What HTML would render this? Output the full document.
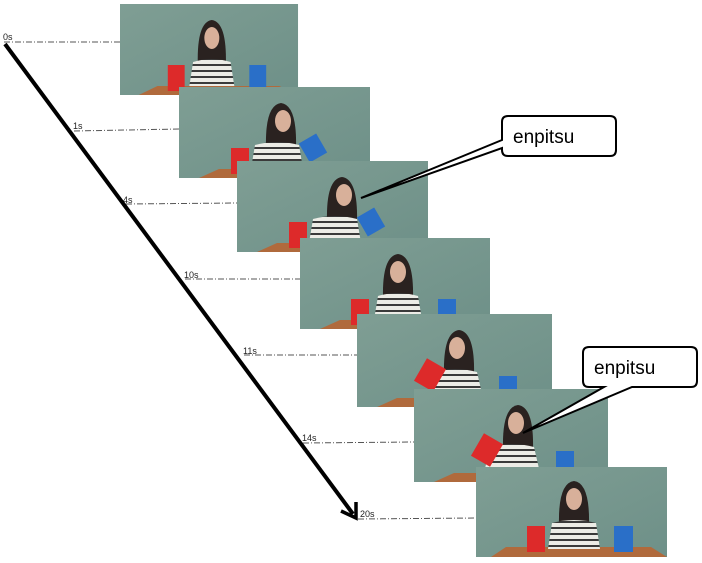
<!DOCTYPE html>
<html><head><meta charset="utf-8"><style>
html,body{margin:0;padding:0;background:#fff;}
svg{display:block}
text{font-family:"Liberation Sans",sans-serif;}
</style></head><body>
<svg width="702" height="563" viewBox="0 0 702 563">
<defs>
<linearGradient id="bg" x1="0" y1="0" x2="1" y2="1">
<stop offset="0" stop-color="#7f9e94"/><stop offset="1" stop-color="#6e9088"/>
</linearGradient>
<pattern id="st" width="4" height="6" patternUnits="userSpaceOnUse">
<rect width="4" height="6" fill="#ecece6"/><rect width="4" height="2" fill="#3a3a3a"/>
</pattern>
</defs>
<g stroke="#555" stroke-width="1" stroke-dasharray="6,2,1,2" fill="none">
<line x1="4" y1="42" x2="120" y2="42"/>
<line x1="74" y1="131" x2="179" y2="129"/>
<line x1="126" y1="204" x2="237" y2="203"/>
<line x1="185" y1="279" x2="300" y2="279"/>
<line x1="244" y1="355" x2="357" y2="355"/>
<line x1="303" y1="443" x2="414" y2="442"/>
<line x1="358" y1="519" x2="476" y2="518"/>
</g>
<g font-size="9" fill="#222">
<text x="3" y="40">0s</text>
<text x="73" y="129">1s</text>
<text x="123" y="203">4s</text>
<text x="184" y="278">10s</text>
<text x="243" y="354">11s</text>
<text x="302" y="441">14s</text>
<text x="360" y="517">20s</text>
</g>
<line x1="5" y1="44" x2="353" y2="514" stroke="#000" stroke-width="4"/>
<path d="M341 511 L356 518 L356 502" fill="none" stroke="#000" stroke-width="3.5"/>

<g transform="translate(120,4) scale(0.937,1)">
<rect width="190" height="91" fill="url(#bg)"/>
<polygon points="20,91 40,82 170,82 190,91" fill="#b06a3c"/>
<path d="M83 60 Q82 18 98 16 Q114 18 113 60 Z" fill="#2a2220"/>
<ellipse cx="98" cy="34" rx="8" ry="11" fill="#d8b09a"/>
<path d="M74 82 L78 58 Q98 52 118 58 L122 82 Z" fill="url(#st)"/>
<rect x="51" y="61" width="18" height="26" fill="#dd2a2a"/>
<rect x="138" y="61" width="18" height="26" fill="#2a6fc8"/>
</g>
<g transform="translate(179,87)">
<rect width="191" height="91" fill="url(#bg)"/>
<polygon points="20,91 40,82 170,82 191,91" fill="#b06a3c"/>
<path d="M87 60 Q86 18 102 16 Q118 18 117 60 Z" fill="#2a2220"/>
<ellipse cx="104" cy="34" rx="8" ry="11" fill="#d8b09a"/>
<path d="M72 82 L76 58 Q98 52 120 58 L124 82 Z" fill="url(#st)"/>
<rect x="52" y="61" width="18" height="26" fill="#dd2a2a"/>
<rect x="124" y="50" width="20" height="22" fill="#2a6fc8" transform="rotate(-30 134 61)"/>
</g>
<g transform="translate(237,161)">
<rect width="191" height="91" fill="url(#bg)"/>
<polygon points="20,91 40,82 170,82 191,91" fill="#b06a3c"/>
<path d="M90 60 Q89 18 105 16 Q121 18 120 60 Z" fill="#2a2220"/>
<ellipse cx="107" cy="34" rx="8" ry="11" fill="#d8b09a"/>
<path d="M72 82 L76 58 Q98 52 120 58 L124 82 Z" fill="url(#st)"/>
<rect x="52" y="61" width="18" height="26" fill="#dd2a2a"/>
<rect x="124" y="50" width="20" height="22" fill="#2a6fc8" transform="rotate(-30 134 61)"/>
</g>
<g transform="translate(300,238)">
<rect width="190" height="91" fill="url(#bg)"/>
<polygon points="20,91 40,82 170,82 190,91" fill="#b06a3c"/>
<path d="M83 60 Q82 18 98 16 Q114 18 113 60 Z" fill="#2a2220"/>
<ellipse cx="98" cy="34" rx="8" ry="11" fill="#d8b09a"/>
<path d="M74 82 L78 58 Q98 52 118 58 L122 82 Z" fill="url(#st)"/>
<rect x="51" y="61" width="18" height="26" fill="#dd2a2a"/>
<rect x="138" y="61" width="18" height="26" fill="#2a6fc8"/>
</g>
<g transform="translate(357,314)">
<rect width="195" height="93" fill="url(#bg)"/>
<polygon points="20,93 40,84 170,84 195,93" fill="#b06a3c"/>
<path d="M87 60 Q86 18 102 16 Q118 18 117 60 Z" fill="#2a2220"/>
<ellipse cx="100" cy="34" rx="8" ry="11" fill="#d8b09a"/>
<path d="M70 84 L76 58 Q98 52 120 58 L126 84 Z" fill="url(#st)"/>
<rect x="62" y="48" width="22" height="26" fill="#dd2a2a" transform="rotate(30 73 61)"/>
<rect x="142" y="62" width="18" height="22" fill="#2a6fc8"/>
</g>
<g transform="translate(414,389)">
<rect width="194" height="93" fill="url(#bg)"/>
<polygon points="20,93 40,84 170,84 194,93" fill="#b06a3c"/>
<path d="M89 60 Q88 18 104 16 Q120 18 119 60 Z" fill="#2a2220"/>
<ellipse cx="102" cy="34" rx="8" ry="11" fill="#d8b09a"/>
<path d="M70 84 L76 58 Q98 52 120 58 L126 84 Z" fill="url(#st)"/>
<rect x="62" y="48" width="22" height="26" fill="#dd2a2a" transform="rotate(30 73 61)"/>
<rect x="142" y="62" width="18" height="22" fill="#2a6fc8"/>
</g>
<g transform="translate(476,467)">
<rect width="191" height="90" fill="url(#bg)"/>
<polygon points="15,90 30,80 175,80 191,90" fill="#b06a3c"/>
<path d="M83 58 Q82 16 98 14 Q114 16 113 58 Z" fill="#2a2220"/>
<ellipse cx="98" cy="32" rx="8" ry="11" fill="#d8b09a"/>
<path d="M72 82 L76 56 Q98 50 120 56 L124 82 Z" fill="url(#st)"/>
<rect x="51" y="59" width="18" height="26" fill="#dd2a2a"/>
<rect x="138" y="59" width="19" height="26" fill="#2a6fc8"/>
</g>

<g stroke="#000" stroke-width="2" fill="#fff">
<path d="M508 116 H610 Q616 116 616 122 V150 Q616 156 610 156 H508 Q502 156 502 150 V148 L361 198 L502 140 V122 Q502 116 508 116 Z"/>
<path d="M589 347 H691 Q697 347 697 353 V381 Q697 387 691 387 H632 L523 433 L604 387 H589 Q583 387 583 381 V353 Q583 347 589 347 Z"/>
</g>
<text x="513" y="143" font-size="19" fill="#000">enpitsu</text>
<text x="594" y="374" font-size="19" fill="#000">enpitsu</text>
</svg>
</body></html>
